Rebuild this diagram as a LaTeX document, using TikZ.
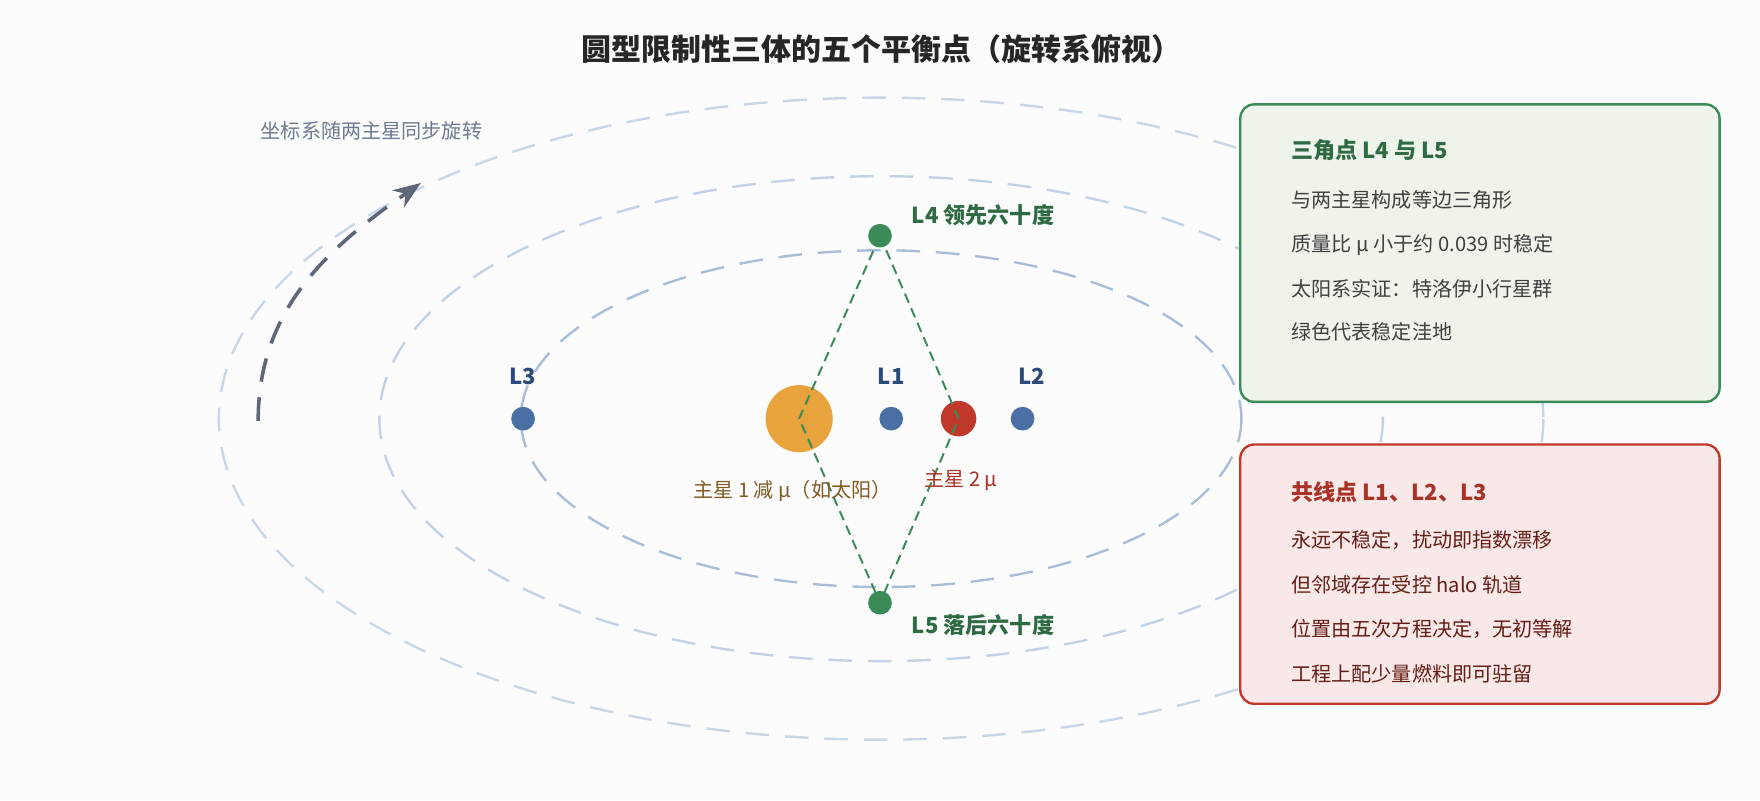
\documentclass[tikz,border=0pt]{standalone}
\usepackage{fontspec}
\setmainfont{Noto Sans CJK SC}
\usetikzlibrary{arrows.meta,positioning}
\definecolor{orbitDark}{HTML}{A9BCD8}
\definecolor{orbitLight}{HTML}{C8D6E8}
\definecolor{sunOrange}{HTML}{E8A33D}
\definecolor{starRed}{HTML}{C0392B}
\definecolor{pointBlue}{HTML}{4A6FA5}
\definecolor{pointGreen}{HTML}{3A8A5A}
\definecolor{textGreen}{HTML}{2E6B45}
\definecolor{textRed}{HTML}{A93226}
\definecolor{textBlue}{HTML}{2C4A7A}
\definecolor{greenFill}{HTML}{EEF4EA}
\definecolor{redFill}{HTML}{F8E8E8}
\tikzset{
  orbit/.style={dashed, dash pattern=on 6pt off 4pt, line width=0.6pt},
  lpoint/.style={circle, fill=pointBlue, minimum size=6pt, inner sep=0pt},
  gpoint/.style={circle, fill=pointGreen, minimum size=6pt, inner sep=0pt},
  lname/.style={font=\fontsize{5.6}{6}\selectfont\bfseries, text=textBlue},
  infobox/.style={rounded corners=3.5pt, line width=0.6pt},
  boxtitle/.style={anchor=west, font=\fontsize{5.6}{6}\selectfont\bfseries},
  boxline/.style={anchor=west, font=\fontsize{5.1}{6}\selectfont}
}
\begin{document}
\begin{tikzpicture}[x=0.01cm, y=-0.01cm, >=Stealth]
  \fill[white!99!black] (0,0) rectangle (1568,713);
  \useasboundingbox (0,0) rectangle (1568,713);

  % title
  \node[font=\fontsize{7.6}{8}\selectfont\bfseries, text=black!85] (title) at (785,44)
    {圆型限制性三体的五个平衡点（旋转系俯视）};

  % orbits
  \draw[orbit, orbitLight] (785,373) ellipse [x radius=590, y radius=286];
  \draw[orbit, orbitLight!80!orbitDark] (785,373) ellipse [x radius=447, y radius=216];
  \draw[orbit, orbitDark] (785,373) ellipse [x radius=321, y radius=150];

  % rotation arrow
  \coordinate (rotStart) at (230,375);
  \coordinate (rotEnd) at (375,163);
  \draw[->, dashed, dash pattern=on 6pt off 4pt, line width=0.9pt, color=black!45!orbitDark]
    (rotStart) to[out=90, in=215] (rotEnd);
  \node[font=\fontsize{5.1}{6}\selectfont, text=black!35!orbitDark] (rotText) at (331,117)
    {坐标系随两主星同步旋转};

  % bodies
  \node[circle, fill=sunOrange, minimum size=17pt, inner sep=0pt] (sun) at (712,373) {};
  \node[circle, fill=starRed, minimum size=9pt, inner sep=0pt] (star) at (854,373) {};
  \node[lpoint] (L1) at (794,373) {};
  \node[lpoint] (L2) at (911,373) {};
  \node[lpoint] (L3) at (466,373) {};
  \node[gpoint] (L4) at (784,210) {};
  \node[gpoint] (L5) at (784,537) {};

  % triangles
  \draw[dashed, dash pattern=on 2.5pt off 1.5pt, pointGreen, line width=0.5pt]
    (L4.center) -- (star.center) -- (L5.center) -- (sun.center) -- cycle;

  % labels
  \node[lname] at (466,335) {L3};
  \node[lname] at (794,335) {L1};
  \node[lname] at (919,335) {L2};
  \node[lname, text=textGreen, anchor=west] at (800,192) {L4 领先六十度};
  \node[lname, text=textGreen, anchor=west] at (800,557) {L5 落后六十度};
  \node[font=\fontsize{5.1}{6}\selectfont, text=sunOrange!55!black] at (706,437) {主星 1 减 μ（如太阳）};
  \node[font=\fontsize{5.1}{6}\selectfont, text=textRed] at (856,428) {主星 2 μ};

  % info boxes
  \draw[infobox, draw=pointGreen, fill=greenFill] (1105,93) rectangle (1532,358);
  \node[boxtitle, text=textGreen] at (1138,134) {三角点 L4 与 L5};
  \node[boxline, text=black!75] at (1138,178) {与两主星构成等边三角形};
  \node[boxline, text=black!75] at (1138,218) {质量比 μ 小于约 0.039 时稳定};
  \node[boxline, text=black!75] at (1138,257) {太阳系实证：特洛伊小行星群};
  \node[boxline, text=black!75] at (1138,296) {绿色代表稳定洼地};

  \draw[infobox, draw=starRed, fill=redFill] (1105,396) rectangle (1532,627);
  \node[boxtitle, text=textRed] at (1138,438) {共线点 L1、L2、L3};
  \node[boxline, text=textRed!60!black] at (1138,481) {永远不稳定，扰动即指数漂移};
  \node[boxline, text=textRed!60!black] at (1138,521) {但邻域存在受控 halo 轨道};
  \node[boxline, text=textRed!60!black] at (1138,560) {位置由五次方程决定，无初等解};
  \node[boxline, text=textRed!60!black] at (1138,600) {工程上配少量燃料即可驻留};
\end{tikzpicture}
\end{document}
